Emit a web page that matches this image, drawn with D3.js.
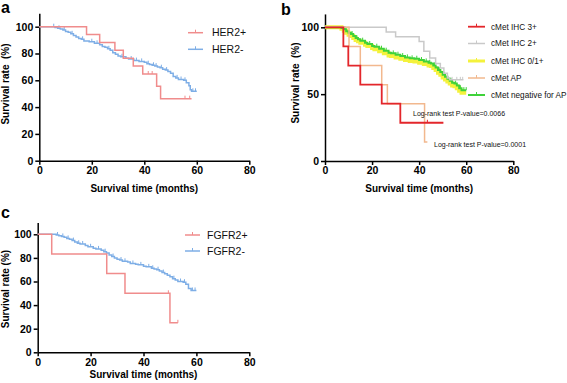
<!DOCTYPE html>
<html>
<head>
<meta charset="utf-8">
<script src="https://cdn.jsdelivr.net/npm/d3@7"></script>
<style>
  body { margin: 0; background: #fff; }
  svg text { font-family: "Liberation Sans", Arial, sans-serif; }
  .axis path, .axis line { stroke: #000; stroke-width: 1.5; }
  .axis text { font-size: 10.5px; font-weight: bold; fill: #000; }
</style>
</head>
<body>
<div id="chart"></div>
<script>
// ---- data: [months, survival %] ----
const her2Pos = [[0,100],[18,94.1],[23,88.2],[28.8,82.4],[32,76.5],[35.8,70.6],[39.4,64.7],[44.7,55.5],[46.2,46.3],[58,46.3]];
const her2PosCensor = [41.5, 43, 55.5, 57.3];
const her2Neg = [[0,100],[5,100],[6,99.4],[7,98.8],[8,98.2],[9,97.6],[10,96.5],[11,95.9],[12,94.7],[13,93.5],[14,92.4],[15,91.2],[16,90.6],[17,89.4],[19,88.8],[21,87.6],[23,86.5],[24,85.3],[25,84.7],[26,83.5],[27,82.4],[28,80.6],[29,79.4],[30,78.2],[31,77.6],[33,76.5],[34,75.9],[36,74.7],[38,74.1],[40,73.5],[41,72.4],[42,71.8],[43,71.2],[44,70.6],[45,70],[46,69.4],[47,68.2],[48,67.6],[49,66.5],[50,65.3],[51,62.9],[52,61.8],[53,60.6],[55,60],[56,58.2],[57,55.9],[57.5,52.9],[58,51.8],[60,51.8]];
const her2NegCensor = [5.5, 7.5, 9.5, 12.5, 16.5, 20, 22, 26.5, 31.5, 35, 37, 39, 41.5, 43.5, 44.5, 46.5, 48.5, 52.5, 54, 55.5, 58.5, 59.5];

const ihc3 = [[0,100],[7.8,85.7],[9.9,71.4],[15,57.1],[24.1,42.9],[32,28.6],[50.3,28.6]];
const ihc3Censor = [43.5];
const ihc2 = [[0,100],[26,96.4],[30,92.9],[40,89.3],[42,82],[44.5,77],[47,73],[49,69.5],[50.5,65.6],[52,62],[53,60.7],[58.8,60.7]];
const ihc2Censor = [54, 56, 57.5, 58.5];
const ihc01 = [[0,100],[6,100],[7,99],[8,97.5],[9,96],[10,94.5],[11,93.5],[12,92],[13,90.5],[14,89.5],[15,88.5],[17,87],[18,86],[20,84.5],[21,83.5],[23,82],[25,80.5],[27,79],[28,78.5],[30,77.5],[32,76.5],[34,75.5],[36,74.8],[38,74.5],[40,73.5],[42,72.5],[44,71.5],[45,71],[46,69.5],[47,68],[48,66],[49,64.5],[50,62.5],[51,61],[52,59.5],[53,58],[54,56.5],[55,56],[56,54.5],[57,52.5],[58,51],[60,51]];
const cmetAP = [[0,100],[10.2,85.7],[15,71.4],[24.1,57.1],[26.5,42.9],[42.3,14.3],[43.5,14.3]];
const cmetNeg = [[0,100],[6,100],[7,99.5],[8,98.5],[9,97],[10,96],[11,95],[12,93.5],[13,92],[14,91],[15,90],[17,88.5],[18,87.5],[20,86],[21,85.5],[23,84],[25,82.5],[27,81],[28,80.5],[30,79.5],[32,78.5],[34,77.5],[36,76.8],[38,76.5],[40,75.5],[42,74.5],[44,73.5],[45,73],[46,71.5],[47,70],[48,68],[49,66.5],[50,64.5],[51,63],[52,61.5],[53,60],[54,58.5],[55,58],[56,56.5],[57,54.5],[58,53],[60,53]];
const cmetNegCensor = [8.5, 11.5, 13.5, 16, 19, 22, 24, 26, 29, 31, 33, 35, 37, 39, 41, 43, 44.5, 46.5, 48.5, 50.5, 53.5, 55.5, 57.5, 59, 60];

const fgfrPos = [[0,100],[5.3,83.3],[26.1,66.7],[33,50],[50,25],[53,25]];
const fgfrPosCensor = [49.4, 53];
const fgfrNeg = [[0,100],[6,100],[7,99.4],[8,98.8],[9,98.2],[10,97.6],[11,96.5],[12,95.9],[13,94.7],[14,93.5],[15,92.4],[16,91.8],[18,90.6],[19,89.4],[21,88.2],[22,87.6],[24,86.5],[25,85.3],[26,84.1],[27,82.4],[28,81.2],[29,80],[30,78.8],[31,78.2],[32,77.1],[34,76.5],[35,75.3],[37,74.7],[38,74.1],[40,72.9],[41,72.4],[43,71.2],[44,70.6],[45,70],[46,68.8],[47,67.6],[48,66.5],[49,65.3],[50,64.1],[51,62.4],[52,61.2],[53,60],[55,59.4],[56,57.6],[57,54.1],[58,52.4],[60,52.4]];
const fgfrNegCensor = [7.5, 9.5, 11.5, 13.5, 15.5, 17, 20, 23, 25.5, 28.5, 31.5, 33, 36, 39, 42, 43.5, 45.5, 47.5, 51.5, 54, 55.5, 58.5, 59.5];

const xTicks = [0, 20, 40, 60, 80];
const yTicksAC = [0, 20, 40, 60, 80, 100];
const yTicksB = [0, 50, 100];

const legendA = ["HER2+", "HER2-"];
const legendB = ["cMet IHC 3+", "cMet IHC 2+", "cMet IHC 0/1+", "cMet AP", "cMet negative for AP"];
const legendC = ["FGFR2+", "FGFR2-"];
const pValues = ["Log-rank test P-value=0.0066", "Log-rank test P-value=0.0001"];

const pink = "#f08c8c", blue = "#7eaee6";
const red = "#e3262b", gray = "#c9c9c9", yellow = "#f4f23c", tan = "#f2b88e", green = "#3fd23a";

const svg = d3.select("#chart").append("svg")
    .attr("width", 567).attr("height", 383);

const bis = d3.bisector(d => d[0]).right;
function survAt(data, t) {
    return data[Math.max(0, bis(data, t) - 1)][1];
}

function makePanel(p) {
    const x = d3.scaleLinear().domain([0, 80]).range([p.x0, p.x1]);
    const y = d3.scaleLinear().domain([0, 100]).range([p.y0, p.y100]);
    const yTop = y(110);
    const g = svg.append("g");
    // axes
    g.append("g").attr("class", "axis")
        .attr("transform", `translate(0,${p.y0})`)
        .call(d3.axisBottom(x).tickValues(xTicks).tickSize(4).tickSizeOuter(0).tickPadding(2));
    g.append("g").attr("class", "axis")
        .attr("transform", `translate(${p.x0},0)`)
        .call(d3.axisLeft(d3.scaleLinear().domain([0, 110]).range([p.y0, yTop]))
            .tickValues(p.yTicks).tickSize(4).tickSizeOuter(0).tickPadding(2));
    // titles
    g.append("text").attr("x", (p.x0 + p.x1) / 2 + p.xtDx).attr("y", p.xtY)
        .attr("text-anchor", "middle").attr("font-size", 10).attr("font-weight", "bold")
        .text("Survival time (months)");
    g.append("text").attr("transform", `translate(${p.ytX},${p.ytY}) rotate(-90)`)
        .attr("text-anchor", "middle").attr("font-size", 10).attr("font-weight", "bold")
        .style("white-space", "pre")
        .text(p.yTitle);
    g.append("text").attr("x", p.lx).attr("y", p.ly)
        .attr("font-size", 16).attr("font-weight", "bold").text(p.letter);
    return { g, x, y };
}

function drawCurve(P, data, color, width, censor) {
    const line = d3.line().x(d => P.x(d[0])).y(d => P.y(d[1])).curve(d3.curveStepAfter);
    P.g.append("path").datum(data).attr("fill", "none").attr("stroke", color)
        .attr("stroke-width", width).attr("d", line);
    if (censor) {
        P.g.selectAll(null).data(censor).join("line")
            .attr("x1", d => P.x(d)).attr("x2", d => P.x(d))
            .attr("y1", d => P.y(survAt(data, d)))
            .attr("y2", d => P.y(survAt(data, d)) - 3)
            .attr("stroke", color).attr("stroke-width", 1);
    }
}

function drawLegend(P, labels, colors, lx, tx, ys, fs, widths) {
    labels.forEach((lab, i) => {
        const w = widths ? widths[i] : 1.5;
        P.g.append("line").attr("x1", lx[0]).attr("x2", lx[1]).attr("y1", ys[i]).attr("y2", ys[i])
            .attr("stroke", colors[i]).attr("stroke-width", w);
        const mx = (lx[0] + lx[1]) / 2;
        P.g.append("line").attr("x1", mx).attr("x2", mx).attr("y1", ys[i]).attr("y2", ys[i] - 3)
            .attr("stroke", colors[i]).attr("stroke-width", 1);
        P.g.append("text").attr("x", tx).attr("y", ys[i] + fs * 0.36)
            .attr("font-size", fs).attr("fill", "#111").text(lab);
    });
}

// ---- panel a ----
const A = makePanel({ x0: 39.3, x1: 249.3, y0: 160.7, y100: 26.7, yTicks: yTicksAC,
    xtDx: 0, xtY: 191.5, ytX: 9, ytY: 84, yTitle: "Survival rate  (%)", lx: 1, ly: 13, letter: "a" });
drawCurve(A, her2Neg, blue, 1.5, her2NegCensor);
drawCurve(A, her2Pos, pink, 1.5, her2PosCensor);
drawLegend(A, legendA, [pink, blue], [188, 203], 212, [32.7, 49.3], 10.5);

// ---- panel b ----
const B = makePanel({ x0: 325, x1: 513.3, y0: 161, y100: 27.3, yTicks: yTicksB,
    xtDx: 0, xtY: 191.5, ytX: 299, ytY: 83, yTitle: "Survival rate  (%)", lx: 281, ly: 15, letter: "b" });
drawCurve(B, ihc01, yellow, 4, null);
drawCurve(B, cmetNeg, green, 2, cmetNegCensor);
drawCurve(B, ihc2, gray, 1.5, ihc2Censor);
drawCurve(B, cmetAP, tan, 1.5, null);
drawCurve(B, ihc3, red, 1.8, ihc3Censor);
drawLegend(B, legendB, [red, gray, yellow, tan, green], [468, 485], 491,
    [26.7, 43.5, 61, 78, 95], 8.2, [1.8, 1.5, 3, 1.5, 2]);
B.g.append("text").attr("x", 413).attr("y", 116).attr("font-size", 7).attr("fill", "#111").text(pValues[0]);
B.g.append("text").attr("x", 434).attr("y", 146.5).attr("font-size", 7).attr("fill", "#111").text(pValues[1]);

// ---- panel c ----
const C = makePanel({ x0: 37.7, x1: 249.3, y0: 352.3, y100: 234.3, yTicks: yTicksAC,
    xtDx: 0, xtY: 378, ytX: 9, ytY: 289, yTitle: "Survival rate (%)", lx: 1, ly: 218, letter: "c" });
drawCurve(C, fgfrNeg, blue, 1.5, fgfrNegCensor);
drawCurve(C, fgfrPos, pink, 1.5, fgfrPosCensor);
drawLegend(C, legendC, [pink, blue], [185, 200], 207, [235, 251], 10.5);
</script>
</body>
</html>
